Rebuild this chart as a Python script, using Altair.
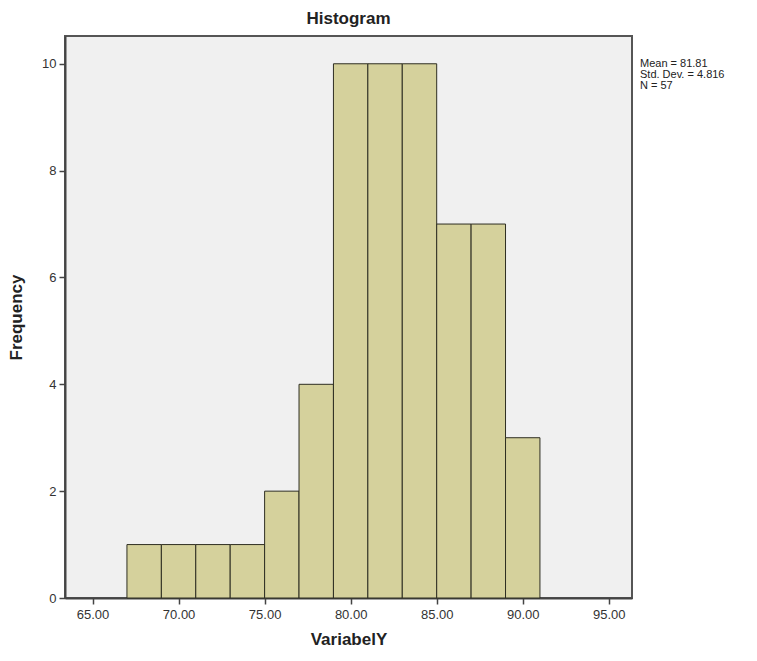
import altair as alt
import pandas as pd

bin_start = [67, 69, 71, 73, 75, 77, 79, 81, 83, 85, 87, 89]
bin_end = [69, 71, 73, 75, 77, 79, 81, 83, 85, 87, 89, 91]
counts = [1, 1, 1, 1, 2, 4, 10, 10, 10, 7, 7, 3]
stats_lines = ["Mean = 81.81", "Std. Dev. = 4.816", "N = 57"]

df = pd.DataFrame({"start": bin_start, "end": bin_end, "count": counts})
stats = pd.DataFrame({"line": stats_lines, "idx": [0, 1, 2]})

FONT = "Liberation Sans"

bars = alt.Chart(df).mark_rect(
    fill="#d5d19c", stroke="#2e2e22", strokeWidth=1
).encode(
    x=alt.X("start:Q",
            scale=alt.Scale(domain=[63.4, 96.35], nice=False, zero=False),
            axis=alt.Axis(values=[65, 70, 75, 80, 85, 90, 95], format=".2f",
                          title="VariabelY", grid=False)),
    x2="end:Q",
    y=alt.Y("count:Q",
            scale=alt.Scale(domain=[0, 10.52], nice=False),
            axis=alt.Axis(values=[0, 2, 4, 6, 8, 10], title="Frequency", grid=False)),
    y2=alt.datum(0),
)

txt = alt.Chart(stats).mark_text(
    align="left", baseline="middle", font=FONT, fontSize=11, color="#222"
).encode(
    x=alt.value(575),
    y=alt.Y("idx:Q", scale=alt.Scale(domain=[0, 2], range=[28, 50]), axis=None),
    text="line:N",
)

chart = alt.layer(bars, txt).resolve_scale(y="independent").properties(
    width=567, height=562,
    autosize=alt.AutoSizeParams(type="none"),
    padding={"left": 57, "top": 28, "right": 117, "bottom": 55},
    title=alt.TitleParams("Histogram", font=FONT, fontSize=17, fontWeight="bold",
                          color="#222", anchor="middle", offset=8),
).configure_view(
    fill="#f0f0f0", stroke="#555555", strokeWidth=2
).configure_axis(
    labelFont=FONT, labelFontSize=13, labelColor="#333",
    titleFont=FONT, titleFontSize=17, titleFontWeight="bold", titleColor="#222",
    domainColor="#444", domainWidth=2, tickColor="#444", tickWidth=1.5, tickSize=6,
).configure_axisX(
    labelPadding=4, titlePadding=10
).configure_axisY(
    labelPadding=3, titlePadding=16
)

chart.save("out.html", embed_options={"renderer": "svg", "actions": False})
